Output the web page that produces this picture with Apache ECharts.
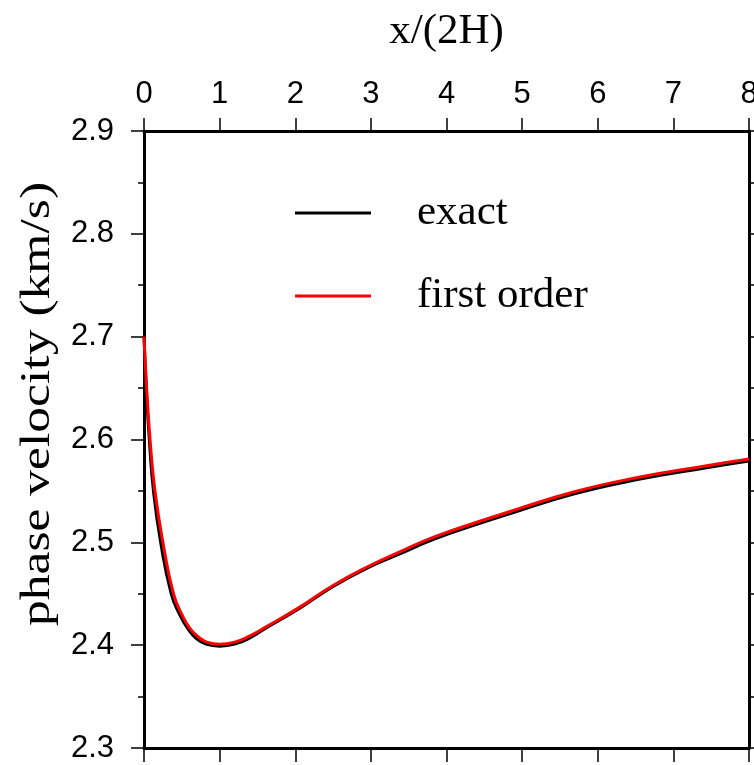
<!DOCTYPE html>
<html>
<head>
<meta charset="utf-8">
<script src="https://cdn.jsdelivr.net/npm/echarts@6/dist/echarts.min.js"></script>
<style>html,body{margin:0;padding:0;background:#fff}#c{width:754px;height:765px}</style>
</head>
<body>
<div id="c"></div>
<script>
// x/(2H) and phase velocity (km/s)
var exactX = [0, 0.03, 0.07, 0.125, 0.22, 0.36, 0.47, 0.58, 0.70, 0.82, 1.0, 1.2, 1.4, 1.62, 2.06, 2.5, 2.95, 3.39, 3.83, 4.44, 4.8, 5.68, 6.56, 7.44, 8.0];
var exactV = [2.700, 2.650, 2.600, 2.550, 2.500, 2.450, 2.430, 2.416, 2.406, 2.401, 2.399, 2.401, 2.407, 2.417, 2.436, 2.457, 2.475, 2.489, 2.503, 2.5185, 2.527, 2.547, 2.5615, 2.5725, 2.579];
var firstX = [0, 0.035, 0.08, 0.145, 0.25, 0.39, 0.50, 0.61, 0.72, 0.83, 1.0, 1.2, 1.4, 1.62, 2.06, 2.5, 2.95, 3.39, 3.83, 4.44, 4.8, 5.68, 6.56, 7.44, 8.0];
var firstV = [2.700, 2.650, 2.600, 2.550, 2.500, 2.450, 2.430, 2.416, 2.408, 2.403, 2.401, 2.403, 2.409, 2.418, 2.437, 2.458, 2.476, 2.491, 2.505, 2.5205, 2.529, 2.549, 2.5635, 2.5745, 2.581];
var seriesNames = ['exact', 'first order'];
var xTitle = 'x/(2H)';
var yTitle = 'phase velocity (km/s)';

function pairs(xs, vs) { return xs.map(function (x, i) { return [x, vs[i]]; }); }

var chart = echarts.init(document.getElementById('c'), null, { renderer: 'canvas' });
var sans = 'Liberation Sans, Arial, sans-serif';
var serif = 'Liberation Serif, Times New Roman, serif';
var axLine = { show: true, onZero: false, lineStyle: { color: '#000', width: 3 } };

chart.setOption({
  animation: false,
  backgroundColor: '#fff',
  grid: { left: 144, right: 5, top: 131, bottom: 17, containLabel: false, outerBoundsMode: 'none' },
  legend: {
    orient: 'vertical', left: 295, top: 191, itemGap: 39, padding: 0,
    itemWidth: 76, itemHeight: 3, icon: 'rect',
    textStyle: { fontFamily: serif, fontSize: 43, color: '#000', lineHeight: 44, padding: [0, 0, 0, 41] },
    data: seriesNames
  },
  xAxis: [
    {
      type: 'value', position: 'top', min: 0, max: 8, interval: 1,
      name: xTitle, nameLocation: 'middle', nameGap: 78,
      nameTextStyle: { fontFamily: serif, fontSize: 43, color: '#000' },
      axisLine: axLine,
      axisTick: { show: true, inside: false, length: 13, lineStyle: { color: '#000', width: 1.5 } },
      axisLabel: { show: true, margin: 21, fontFamily: sans, fontSize: 31, color: '#000' },
      splitLine: { show: false }
    },
    {
      type: 'value', position: 'bottom', min: 0, max: 8, interval: 1,
      axisLine: axLine,
      axisTick: { show: true, inside: false, length: 14, lineStyle: { color: '#000', width: 1.5 } },
      axisLabel: { show: false },
      splitLine: { show: false }
    }
  ],
  yAxis: [
    {
      type: 'value', position: 'left', min: 2.3, max: 2.9, interval: 0.1,
      axisLine: axLine,
      axisTick: { show: true, inside: false, length: 13, lineStyle: { color: '#000', width: 1.5 } },
      minorTick: { show: true, splitNumber: 2, length: 6, lineStyle: { color: '#000', width: 1.5 } },
      axisLabel: { show: true, margin: 30, fontFamily: sans, fontSize: 31, color: '#000',
        formatter: function (v) { return v.toFixed(1); } },
      splitLine: { show: false }
    },
    {
      type: 'value', position: 'right', min: 2.3, max: 2.9, interval: 0.05,
      axisLine: axLine,
      axisTick: { show: true, inside: false, length: 8, lineStyle: { color: '#000', width: 1.5 } },
      axisLabel: { show: false },
      splitLine: { show: false }
    }
  ],
  graphic: [
    {
      type: 'text', x: 38, y: 404, rotation: Math.PI / 2, scaleX: 1.2, scaleY: 1,
      style: { text: yTitle, fontFamily: serif, fontSize: 43, fill: '#000', align: 'center', verticalAlign: 'middle' }
    }
  ],
  series: [
    {
      name: seriesNames[0], type: 'line', xAxisIndex: 0, yAxisIndex: 0,
      data: pairs(exactX, exactV), showSymbol: false, symbol: 'none',
      smooth: 0.5,
      lineStyle: { color: '#000', width: 3 }, itemStyle: { color: '#000' }
    },
    {
      name: seriesNames[1], type: 'line', xAxisIndex: 0, yAxisIndex: 0,
      data: pairs(firstX, firstV), showSymbol: false, symbol: 'none',
      smooth: 0.5,
      lineStyle: { color: '#ff0000', width: 3 }, itemStyle: { color: '#ff0000' }
    }
  ]
});
</script>
</body>
</html>
